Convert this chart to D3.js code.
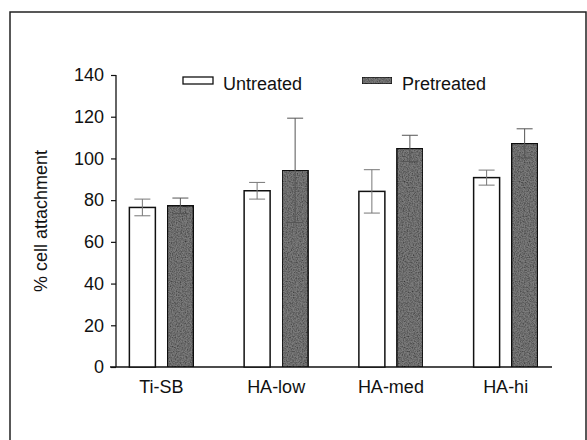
<!DOCTYPE html>
<html>
<head>
<meta charset="utf-8">
<script src="https://cdn.jsdelivr.net/npm/d3@7"></script>
<style>
  body { margin: 0; background: #fff; }
  svg { font-family: "Liberation Sans", Arial, sans-serif; }
</style>
</head>
<body>
<svg id="chart" width="587" height="440"></svg>
<script>
// data
const groups = ["Ti-SB", "HA-low", "HA-med", "HA-hi"];
const seriesNames = ["Untreated", "Pretreated"];
const untreated = [76.5, 84.5, 84.2, 90.8];
const untreatedErr = [4, 4, 10.4, 3.6];
const pretreated = [77.3, 94.3, 104.8, 107.2];
const pretreatedErr = [3.7, 25, 6.3, 7];
const yTicks = [0, 20, 40, 60, 80, 100, 120, 140];

const data = groups.map((g, i) => ({
    group: g,
    values: [
        { key: "Untreated", value: untreated[i], err: untreatedErr[i] },
        { key: "Pretreated", value: pretreated[i], err: pretreatedErr[i] }
    ]
}));

const fontSize = 18;
const svg = d3.select("#chart");

// speckled texture for the pretreated bars
const defs = svg.append("defs");
const filt = defs.append("filter").attr("id", "grain")
    .attr("x", 0).attr("y", 0).attr("width", 1).attr("height", 1);
filt.append("feTurbulence").attr("type", "fractalNoise")
    .attr("baseFrequency", 0.8).attr("numOctaves", 2).attr("seed", 3).attr("result", "noise");
filt.append("feColorMatrix").attr("in", "noise").attr("type", "matrix")
    .attr("values", "0 0 0 0 0  0 0 0 0 0  0 0 0 0 0  0 0 0 -1.4 0.95")
    .attr("result", "dots");
filt.append("feComposite").attr("in", "dots").attr("in2", "SourceGraphic").attr("operator", "atop");

const colors = { Untreated: "#ffffff", Pretreated: "#7c7c7c" };

// frame
svg.append("rect")
    .attr("x", 10).attr("y", 12)
    .attr("width", 576).attr("height", 440)
    .attr("fill", "none").attr("stroke", "#222").attr("stroke-width", 1.5);

const y = d3.scaleLinear().domain([0, 140]).range([367, 75]);
const x0 = d3.scaleBand().domain(groups).range([104, 563]).padding(0);
const x1 = d3.scaleBand().domain(seriesNames).range([-32, 32]).paddingInner(0.316);

// y axis
const yAxis = svg.append("g")
    .attr("transform", "translate(116,0)")
    .call(d3.axisLeft(y).tickValues(yTicks).tickSize(5).tickPadding(7));
yAxis.select(".domain").attr("stroke", "#111").attr("stroke-width", 1.3).attr("d", `M0,${y(0)}V${y(140)}`);
yAxis.selectAll(".tick line").attr("stroke", "#111").attr("stroke-width", 1.2);
yAxis.selectAll(".tick text").attr("font-size", fontSize).attr("fill", "#111")
    .attr("font-family", "Liberation Sans, Arial, sans-serif");

// x axis baseline
svg.append("line")
    .attr("x1", 110).attr("x2", 552)
    .attr("y1", y(0)).attr("y2", y(0))
    .attr("stroke", "#111").attr("stroke-width", 1.3);

const xAxis = svg.append("g")
    .attr("transform", `translate(0,${y(0)})`)
    .call(d3.axisBottom(x0).tickSize(0).tickPadding(13));
xAxis.select(".domain").remove();
xAxis.selectAll(".tick text").attr("font-size", fontSize).attr("fill", "#111")
    .attr("font-family", "Liberation Sans, Arial, sans-serif");

// y label
svg.append("text")
    .attr("transform", `translate(47,${(y(0) + y(140)) / 2}) rotate(-90)`)
    .attr("text-anchor", "middle")
    .attr("font-size", fontSize)
    .attr("fill", "#111")
    .text("% cell attachment");

// bars
const gGroups = svg.selectAll(".grp")
    .data(data)
    .join("g")
    .attr("class", "grp")
    .attr("transform", d => `translate(${x0(d.group) + x0.bandwidth() / 2},0)`);

gGroups.selectAll("rect")
    .data(d => d.values)
    .join("rect")
    .attr("x", d => x1(d.key))
    .attr("y", d => y(d.value))
    .attr("width", x1.bandwidth())
    .attr("height", d => y(0) - y(d.value))
    .attr("fill", d => colors[d.key])
    .attr("filter", d => d.key === "Pretreated" ? "url(#grain)" : null)
    .attr("stroke", "#111")
    .attr("stroke-width", 1.5);

// error bars
const cap = 8;
const eb = gGroups.selectAll(".err")
    .data(d => d.values)
    .join("g")
    .attr("class", "err")
    .attr("stroke", d => d.key === "Pretreated" ? "#555" : "#777")
    .attr("stroke-width", 1);
eb.append("line")
    .attr("x1", d => x1(d.key) + x1.bandwidth() / 2)
    .attr("x2", d => x1(d.key) + x1.bandwidth() / 2)
    .attr("y1", d => y(d.value + d.err))
    .attr("y2", d => y(d.value - d.err));
eb.append("line")
    .attr("x1", d => x1(d.key) + x1.bandwidth() / 2 - cap)
    .attr("x2", d => x1(d.key) + x1.bandwidth() / 2 + cap)
    .attr("y1", d => y(d.value + d.err))
    .attr("y2", d => y(d.value + d.err));
eb.append("line")
    .attr("x1", d => x1(d.key) + x1.bandwidth() / 2 - cap)
    .attr("x2", d => x1(d.key) + x1.bandwidth() / 2 + cap)
    .attr("y1", d => y(d.value - d.err))
    .attr("y2", d => y(d.value - d.err));

// legend
const legendX = [183, 362];
const legend = svg.selectAll(".legend")
    .data(seriesNames)
    .join("g")
    .attr("class", "legend")
    .attr("transform", (d, i) => `translate(${legendX[i]},77)`);
legend.append("rect")
    .attr("width", 30).attr("height", 7)
    .attr("fill", d => colors[d])
    .attr("filter", d => d === "Pretreated" ? "url(#grain)" : null)
    .attr("stroke", "#111").attr("stroke-width", 1.3);
legend.append("text")
    .attr("x", 40).attr("y", 13)
    .attr("font-size", fontSize)
    .attr("fill", "#111")
    .text(d => d);
</script>
</body>
</html>
